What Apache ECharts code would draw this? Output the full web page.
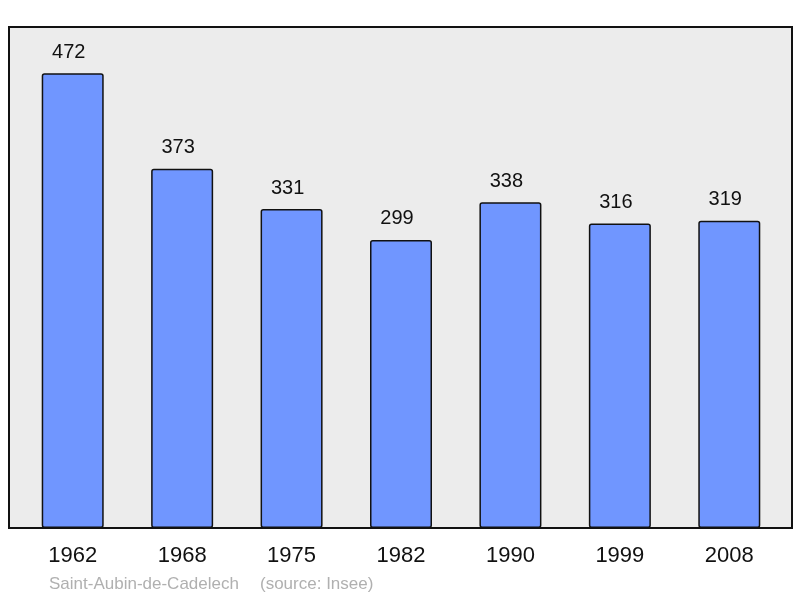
<!DOCTYPE html>
<html><head><meta charset="utf-8">
<script src="https://cdn.jsdelivr.net/npm/echarts@6/dist/echarts.min.js"></script>
<style>html,body{margin:0;padding:0;background:#fff}#c{width:800px;height:598px}</style>
</head><body><div id="c"></div>
<script>
const years = ['1962','1968','1975','1982','1990','1999','2008'];
const population = [472, 373, 331, 299, 338, 316, 319];
const footerPlace = 'Saint-Aubin-de-Cadelech';
const footerSource = '(source: Insee)';

const chart = echarts.init(document.getElementById('c'));
chart.setOption({
  animation: false,
  backgroundColor: '#ffffff',
  grid: [
    {left: 9, right: 8, top: 27, bottom: 70, show: true, backgroundColor: '#ececec', borderColor: '#111', borderWidth: 2},
    {left: 18, right: 16, top: 27, bottom: 70}
  ],
  xAxis: [
    {gridIndex: 0, type: 'value', show: false, min: 0, max: 1},
    {gridIndex: 1, type: 'category', data: years,
     axisLine: {show: false}, axisTick: {show: false},
     axisLabel: {color: '#111', fontSize: 22, fontFamily: 'Liberation Sans, Arial, sans-serif', margin: 17}}
  ],
  yAxis: [
    {gridIndex: 0, type: 'value', show: false, min: 0, max: 1},
    {gridIndex: 1, type: 'value', min: 0, max: 520, show: false}
  ],
  series: [{
    type: 'bar', xAxisIndex: 1, yAxisIndex: 1,
    data: population, barWidth: 62,
    itemStyle: {color: '#7096ff', borderColor: '#111', borderWidth: 1.5, borderRadius: 2},
    label: {show: true, position: 'top', distance: 11, offset: [-4, 0], color: '#111', fontSize: 20, fontFamily: 'Liberation Sans, Arial, sans-serif'}
  }],
  graphic: [
    {type: 'text', left: 49, top: 576,
     style: {text: footerPlace, fill: '#b0b0b0', fontSize: 17, fontFamily: 'Liberation Sans, Arial, sans-serif'}},
    {type: 'text', left: 260, top: 576,
     style: {text: footerSource, fill: '#b0b0b0', fontSize: 17, fontFamily: 'Liberation Sans, Arial, sans-serif'}}
  ]
});
</script></body></html>
